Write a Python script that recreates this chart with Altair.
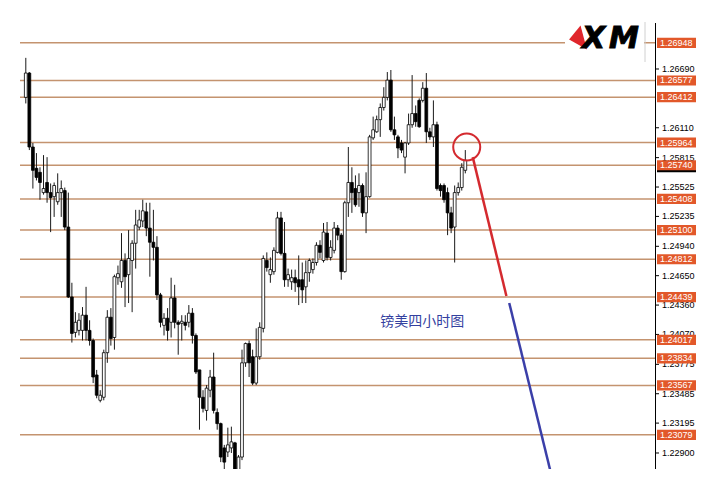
import altair as alt
import pandas as pd

# ---- candle data (GBPUSD H4) ----
opens = [1.2641,1.2665,1.2592,1.2571,1.2567,1.2547,1.2557,1.2547,1.2543,1.2538,
         1.2547,1.2549,1.2513,1.2444,1.2409,1.2411,1.2411,1.2426,1.2411,1.2401,
         1.2367,1.2342,1.2345,1.2389,1.2424,1.2404,1.2463,1.2459,1.2480,1.2466,
         1.2480,1.2497,1.2513,1.2519,1.2528,1.2512,1.2498,1.2493,1.2446,1.2416,
         1.2423,1.2419,1.2443,1.2419,1.2418,1.2419,1.2419,1.2428,1.2406,1.2372,
         1.2345,1.2332,1.2352,1.2365,1.2330,1.2319,1.2295,1.2291,1.2295,1.2300,
         1.2271,1.2286,1.2379,1.2398,1.2385,1.2359,1.2385,1.2413,1.2480,1.2466,
         1.2469,1.2488,1.2522,1.2487,1.2461,1.2459,1.2463,1.2461,1.2461,1.2454,
         1.2468,1.2471,1.2478,1.2495,1.2480,1.2507,1.2483,1.2490,1.2512,1.2505,
         1.2469,1.2537,1.2557,1.2551,1.2547,1.2554,1.2527,1.2543,1.2601,1.2607,
         1.2619,1.2631,1.2641,1.2658,1.2609,1.2602,1.2596,1.2582,1.2596,1.2614,
         1.2625,1.2638,1.2638,1.2650,1.2607,1.2602,1.2614,1.2554,1.2554,1.2547,
         1.2527,1.2513,1.2547,1.2552,1.2569]
highs = [1.2680,1.2666,1.2596,1.2586,1.2572,1.2584,1.2582,1.2556,1.2557,1.2566,
         1.2559,1.2552,1.2547,1.2458,1.2429,1.2428,1.2434,1.2454,1.2421,1.2403,
         1.2372,1.2352,1.2392,1.2431,1.2433,1.2466,1.2475,1.2507,1.2487,1.2510,
         1.2500,1.2530,1.2530,1.2540,1.2537,1.2537,1.2530,1.2504,1.2448,1.2428,
         1.2433,1.2463,1.2456,1.2421,1.2426,1.2426,1.2436,1.2433,1.2408,1.2372,
         1.2352,1.2357,1.2372,1.2389,1.2334,1.2320,1.2298,1.2315,1.2316,1.2301,
         1.2288,1.2392,1.2399,1.2401,1.2392,1.2413,1.2419,1.2485,1.2488,1.2483,
         1.2493,1.2528,1.2528,1.2518,1.2472,1.2471,1.2471,1.2485,1.2478,1.2480,
         1.2482,1.2482,1.2498,1.2500,1.2517,1.2518,1.2500,1.2518,1.2515,1.2507,
         1.2539,1.2592,1.2572,1.2564,1.2566,1.2556,1.2567,1.2604,1.2622,1.2623,
         1.2635,1.2651,1.2666,1.2668,1.2622,1.2604,1.2599,1.2597,1.2625,1.2663,
         1.2633,1.2640,1.2656,1.2665,1.2611,1.2638,1.2617,1.2556,1.2556,1.2552,
         1.2533,1.2554,1.2557,1.2576,1.2589]
lows = [1.2635,1.2589,1.2551,1.2559,1.2540,1.2545,1.2537,1.2508,1.2523,1.2535,
        1.2523,1.2510,1.2443,1.2399,1.2404,1.2406,1.2401,1.2401,1.2396,1.2359,
        1.2344,1.2340,1.2342,1.2379,1.2396,1.2392,1.2456,1.2453,1.2434,1.2438,
        1.2429,1.2472,1.2510,1.2513,1.2504,1.2464,1.2480,1.2441,1.2414,1.2406,
        1.2401,1.2404,1.2413,1.2387,1.2401,1.2411,1.2414,1.2398,1.2368,1.2313,
        1.2330,1.2322,1.2345,1.2329,1.2313,1.2281,1.2273,1.2286,1.2290,1.2271,
        1.2269,1.2283,1.2375,1.2365,1.2357,1.2357,1.2382,1.2409,1.2469,1.2458,
        1.2466,1.2487,1.2485,1.2454,1.2454,1.2451,1.2449,1.2436,1.2438,1.2438,
        1.2459,1.2467,1.2475,1.2482,1.2478,1.2480,1.2480,1.2487,1.2500,1.2461,
        1.2468,1.2523,1.2527,1.2533,1.2533,1.2523,1.2507,1.2542,1.2599,1.2606,
        1.2602,1.2628,1.2638,1.2607,1.2599,1.2581,1.2586,1.2566,1.2594,1.2611,
        1.2612,1.2611,1.2636,1.2596,1.2599,1.2592,1.2549,1.2543,1.2537,1.2505,
        1.2507,1.2478,1.2544,1.2549,1.2566]
closes = [1.2665,1.2592,1.2569,1.2562,1.2557,1.2551,1.2547,1.2542,1.2554,1.2547,
          1.2551,1.2513,1.2444,1.2408,1.2419,1.2421,1.2426,1.2411,1.2401,1.2365,
          1.2347,1.2347,1.2389,1.2424,1.2403,1.2464,1.2467,1.2480,1.2464,1.2482,
          1.2497,1.2515,1.2520,1.2529,1.2512,1.2498,1.2493,1.2446,1.2419,1.2423,
          1.2411,1.2443,1.2419,1.2417,1.2420,1.2416,1.2428,1.2406,1.2370,1.2345,
          1.2334,1.2354,1.2365,1.2332,1.2319,1.2286,1.2281,1.2298,1.2301,1.2273,
          1.2286,1.2379,1.2398,1.2379,1.2359,1.2385,1.2414,1.2482,1.2473,1.2471,
          1.2490,1.2522,1.2487,1.2461,1.2466,1.2463,1.2458,1.2454,1.2451,1.2468,
          1.2480,1.2478,1.2495,1.2488,1.2508,1.2483,1.2493,1.2512,1.2505,1.2469,
          1.2537,1.2557,1.2547,1.2535,1.2554,1.2527,1.2543,1.2602,1.2609,1.2619,
          1.2631,1.2641,1.2658,1.2609,1.2604,1.2591,1.2589,1.2596,1.2614,1.2625,
          1.2617,1.2612,1.2650,1.2607,1.2602,1.2614,1.2551,1.2549,1.2540,1.2527,
          1.2512,1.2547,1.2552,1.2572,1.2579]

# ---- horizontal levels and their labels ----
levels = [1.26948, 1.26577, 1.26412, 1.25964, 1.25740, 1.25408, 1.25100,
          1.24812, 1.24439, 1.24017, 1.23834, 1.23567, 1.23079]
level_labels = ["1.26948", "1.26577", "1.26412", "1.25964", "1.25740", "1.25408",
                "1.25100", "1.24812", "1.24439", "1.24017", "1.23834", "1.23567",
                "1.23079"]
tick_values = [1.26690, 1.26110, 1.25815, 1.25525, 1.25235,
               1.24940, 1.24650, 1.24360, 1.24070, 1.23775, 1.23485, 1.23195,
               1.22900]
tick_labels = ["1.26690", "1.26110", "1.25815", "1.25525",
               "1.25235", "1.24940", "1.24650", "1.24360", "1.24070", "1.23775",
               "1.23485", "1.23195", "1.22900"]
current_price = [1.25720]

# ---- annotations ----
red_x = [126.1, 135.6]
red_y = [1.2582, 1.2445]
blue_x = [136.4, 148.1]
blue_y = [1.2438, 1.2271]
circle_x = [124.4]
circle_y = [1.2592]
note_x = [100.0]
note_y = [1.2419]
note_text = ["镑美四小时图"]

W, H = 647, 461
xs = alt.Scale(domain=[-3.611, 176.11], nice=False, zero=False)
ys = alt.Scale(domain=[1.22742, 1.27292], nice=False, zero=False)

candles = pd.DataFrame({"i": list(range(len(opens))), "open": opens,
                        "high": highs, "low": lows, "close": closes})
lv = pd.DataFrame({"level": levels, "label": level_labels})
tk = pd.DataFrame({"v": tick_values, "t": tick_labels})
one = pd.DataFrame({"k": [0]})

LINE = "#c4936f"
BOX = "#e2582a"
FONT = "Liberation Sans"
FS = 9

hlines = alt.Chart(lv).mark_rule(color=LINE, strokeWidth=1.5).encode(
    y=alt.Y("level:Q", scale=ys, axis=None),
    x=alt.value(12), x2=alt.value(W))

wicks = alt.Chart(candles).mark_rule(color="#1a1a1a", strokeWidth=1).encode(
    x=alt.X("i:Q", scale=xs, axis=None),
    y=alt.Y("low:Q", scale=ys, axis=None),
    y2="high:Q")

bodies = alt.Chart(candles).mark_bar(size=2.8, stroke="#000", strokeWidth=0.8).encode(
    x=alt.X("i:Q", scale=xs, axis=None),
    y=alt.Y("open:Q", scale=ys, axis=None),
    y2="close:Q",
    fill=alt.condition("datum.close >= datum.open", alt.value("white"), alt.value("black")))

red_line = alt.Chart(pd.DataFrame({"x": red_x, "y": red_y})).mark_line(
    color="#d42a2f", strokeWidth=2.5).encode(
    x=alt.X("x:Q", scale=xs, axis=None), y=alt.Y("y:Q", scale=ys, axis=None))
blue_line = alt.Chart(pd.DataFrame({"x": blue_x, "y": blue_y})).mark_line(
    color="#3b3fa8", strokeWidth=2.5).encode(
    x=alt.X("x:Q", scale=xs, axis=None), y=alt.Y("y:Q", scale=ys, axis=None))
circle = alt.Chart(pd.DataFrame({"x": circle_x, "y": circle_y})).mark_point(
    shape="circle", size=730, filled=False, color="#d42a2f", strokeWidth=2, opacity=1).encode(
    x=alt.X("x:Q", scale=xs, axis=None), y=alt.Y("y:Q", scale=ys, axis=None))
note = alt.Chart(pd.DataFrame({"x": note_x, "y": note_y, "t": note_text})).mark_text(
    align="left", baseline="middle", font="Noto Sans CJK SC", fontSize=14,
    color="#3441a0").encode(
    x=alt.X("x:Q", scale=xs, axis=None), y=alt.Y("y:Q", scale=ys, axis=None), text="t:N")

# ---- XM logo ----
logo_bg = alt.Chart(one).mark_rect(color="white").encode(
    x=alt.value(557), x2=alt.value(636), y=alt.value(14), y2=alt.value(56))
logo_sep = alt.Chart(one).mark_rule(color="#d0d0d0", strokeWidth=1).encode(
    x=alt.value(637), y=alt.value(14), y2=alt.value(54))
logo_red = alt.Chart(one).mark_point(
    shape="M -0.74 0.16 L 0.21 -1 L 0.74 1 Z", size=580, filled=True,
    color="#e0262b", opacity=1, strokeWidth=0).encode(
    x=alt.value(570), y=alt.value(29.5))
logo_x = alt.Chart(one).mark_text(
    align="left", baseline="alphabetic", font="DejaVu Sans", fontWeight="bold",
    fontStyle="italic", fontSize=30, color="#000", stroke="#000", strokeWidth=1).encode(
    x=alt.value(574), y=alt.value(40), text=alt.value("X"))
logo_m = alt.Chart(one).mark_text(
    align="left", baseline="alphabetic", font="DejaVu Sans", fontWeight="bold",
    fontStyle="italic", fontSize=30, color="#000", stroke="#000", strokeWidth=1).encode(
    x=alt.value(601), y=alt.value(40), text=alt.value("M"))

axis_line = alt.Chart(one).mark_rule(color="#000", strokeWidth=1).encode(
    x=alt.value(647.5), y=alt.value(15), y2=alt.value(H))

ticks = alt.Chart(tk).mark_rule(color="#000", strokeWidth=1).encode(
    y=alt.Y("v:Q", scale=ys, axis=None), x=alt.value(648), x2=alt.value(651))
tick_text = alt.Chart(tk).mark_text(
    align="left", baseline="middle", font=FONT, fontSize=FS, color="#000").encode(
    x=alt.value(654), y=alt.Y("v:Q", scale=ys, axis=None), text="t:N")

cur_box = alt.Chart(pd.DataFrame({"p": current_price})).transform_calculate(
    lo="datum.p - 0.0005", hi="datum.p + 0.0005").mark_rect(color="#000").encode(
    x=alt.value(649), x2=alt.value(688),
    y=alt.Y("lo:Q", scale=ys, axis=None), y2="hi:Q")

boxes = alt.Chart(lv).transform_calculate(
    lo="datum.level - 0.0005", hi="datum.level + 0.0005").mark_rect(color=BOX).encode(
    x=alt.value(649), x2=alt.value(688),
    y=alt.Y("lo:Q", scale=ys, axis=None), y2="hi:Q")
box_text = alt.Chart(lv).mark_text(
    align="left", baseline="middle", font=FONT, fontSize=FS,
    color="white").encode(
    x=alt.value(652), y=alt.Y("level:Q", scale=ys, axis=None), text="label:N")

chart = alt.layer(
    hlines, wicks, bodies, red_line, blue_line, circle, note,
    logo_bg, logo_sep, logo_red, logo_x, logo_m, axis_line,
    ticks, tick_text, cur_box, boxes, box_text
).properties(
    width=W, height=H,
    padding={"left": 0, "top": 0, "right": 45, "bottom": 0},
    autosize=alt.AutoSizeParams(type="none"),
    background="white"
).configure_view(strokeWidth=0)

chart.save("out.html", embed_options={"renderer": "svg", "actions": False})
